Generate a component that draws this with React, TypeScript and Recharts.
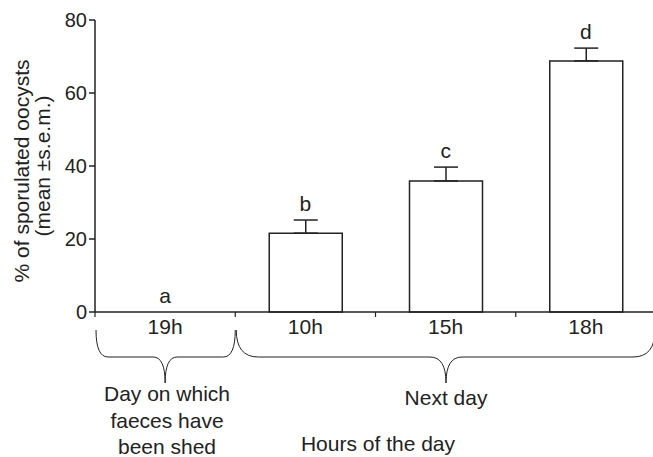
import { ComposedChart, Bar, Line, XAxis, YAxis, ErrorBar, LabelList } from 'recharts';

const categories = ['19h', '10h', '15h', '18h'];
const means = [0, 21.6, 35.9, 68.8];
const sems = [0, 3.6, 3.8, 3.5];
const letters = ['a', 'b', 'c', 'd'];
const yTicks = [0, 20, 40, 60, 80];

const data = categories.map((c, i) => ({
  name: c,
  mean: means[i],
  err: [0, sems[i]],
  top: means[i] + sems[i],
  letter: letters[i],
}));

const W = 656;
const H = 457;
const M = { top: 20, right: 0, left: 0, bottom: 115 };
const Y_W = 95;
const X_H = 30;
const plotX = M.left + Y_W;
const plotW = W - M.right - plotX;
const plotH = H - M.top - M.bottom - X_H;
const axisY = M.top + plotH;
const band = plotW / categories.length;
const ink = '#222';
const font = '"Liberation Sans", Arial, sans-serif';

// curly brace under a group of categories
function brace(x1: number, x2: number, xm: number, yTop: number, yMid: number, yTip: number, r: number, rt: number) {
  return `M${x1},${yTop} Q${x1},${yMid} ${x1 + r},${yMid} L${xm - rt},${yMid} Q${xm},${yMid} ${xm},${yTip} ` +
    `Q${xm},${yMid} ${xm + rt},${yMid} L${x2 - r},${yMid} Q${x2},${yMid} ${x2},${yTop}`;
}

export default function App() {
  const edges = categories.map((_, i) => plotX + band * i).concat([plotX + plotW]);
  return (
    <div style={{ position: 'absolute', left: 0, top: 0, width: 653, height: H, overflow: 'hidden', background: '#fff' }}>
      <ComposedChart width={W} height={H} data={data} margin={M} barSize={73}>
        <XAxis
          dataKey="name"
          height={X_H}
          tickLine={false}
          tickSize={0}
          tickMargin={7}
          stroke={ink}
          strokeWidth={1.5}
          tick={{ fill: ink, fontSize: 21, fontFamily: font }}
        />
        <YAxis
          width={Y_W}
          domain={[0, 80]}
          ticks={yTicks}
          tickSize={6}
          tickMargin={2}
          stroke={ink}
          strokeWidth={1.5}
          tick={{ fill: ink, fontSize: 20, fontFamily: font }}
        />
        <Bar dataKey="mean" fill="#fff" stroke={ink} strokeWidth={1.5} isAnimationActive={false}>
          <ErrorBar dataKey="err" direction="y" width={12} stroke={ink} strokeWidth={1.5} />
        </Bar>
        <Line dataKey="top" stroke="none" dot={false} activeDot={false} isAnimationActive={false}>
          <LabelList dataKey="letter" position="top" offset={9} fill={ink} fontSize={21} fontFamily={font} />
        </Line>
      </ComposedChart>
      <svg width={653} height={H} style={{ position: 'absolute', left: 0, top: 0, pointerEvents: 'none' }}>
        {edges.slice(0, 4).map((x, i) => (
          <line key={i} x1={x} x2={x} y1={axisY} y2={axisY + 5} stroke={ink} strokeWidth={1.2} />
        ))}
        <path d={brace(edges[0] + 1, edges[1], (edges[0] + edges[1]) / 2, 330, 357, 383, 12, 12)} fill="none" stroke={ink} strokeWidth={1} />
        <path d={brace(edges[1] + 1, edges[4] - 1, 446, 330, 357, 383, 22, 16)} fill="none" stroke={ink} strokeWidth={1} />
        <g fontFamily={font} fontSize={21} fill={ink} textAnchor="middle">
          <text x={167} y={401}>Day on which</text>
          <text x={167} y={428}>faeces have</text>
          <text x={167} y={454}>been shed</text>
          <text x={446} y={405}>Next day</text>
          <text x={378} y={451}>Hours of the day</text>
          <g transform="translate(29,171) rotate(-90)">
            <text x={0} y={0}>% of sporulated oocysts</text>
          </g>
          <g transform="translate(50,166) rotate(-90)">
            <text x={0} y={0}>(mean ±s.e.m.)</text>
          </g>
        </g>
      </svg>
    </div>
  );
}
